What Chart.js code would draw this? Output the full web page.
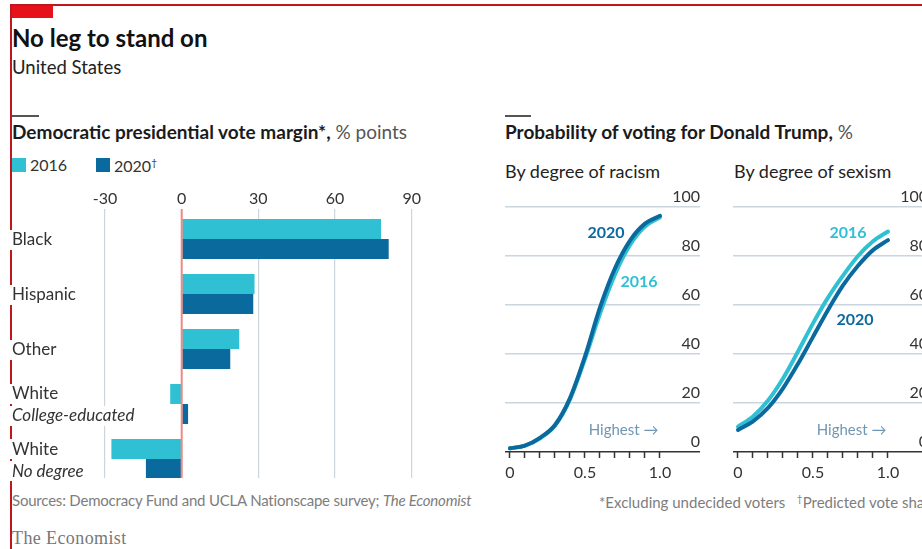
<!DOCTYPE html>
<html>
<head>
<meta charset="utf-8">
<script src="https://cdn.jsdelivr.net/npm/chart.js@4"></script>
<style>
  html, body { margin: 0; padding: 0; background: #fff; }
  body { width: 922px; height: 549px; overflow: hidden; position: relative; font-family: Lato, 'Noto Sans', sans-serif; color: #333; }
  .t { position: absolute; white-space: nowrap; line-height: 1; }
  .rule { position: absolute; background: #555; height: 2px; }
  canvas { position: absolute; }
</style>
</head>
<body>
<!-- frame -->
<div style="position:absolute;left:10px;top:4px;width:920px;height:2px;background:#c0161d"></div>
<div style="position:absolute;left:10px;top:4px;width:2px;height:560px;background:#c0161d"></div>
<div style="position:absolute;left:12px;top:6px;width:41px;height:12px;background:#e5121c"></div>

<div class="t" style="left:12px;top:26px;font-size:24px;font-weight:700;color:#111">No leg to stand on</div>
<div class="t" style="left:12px;top:58px;font-size:18.5px;color:#222">United States</div>

<div class="rule" style="left:12px;top:115px;width:27px"></div>
<div class="t" style="left:12px;top:122px;font-size:19px;color:#1b1b1b"><b>Democratic presidential vote margin*,</b> <span style="color:#555">% points</span></div>
<div id="legend"></div>

<div class="rule" style="left:505px;top:115px;width:26px"></div>
<div class="t" style="left:505px;top:122px;font-size:19px;color:#1b1b1b"><b>Probability of voting for Donald Trump,</b> <span style="color:#555">%</span></div>
<div class="t" style="left:505px;top:162px;font-size:18px;color:#222">By degree of racism</div>
<div class="t" style="left:734px;top:162px;font-size:18px;color:#222">By degree of sexism</div>

<canvas id="bars" width="480" height="310" style="left:0;top:180px"></canvas>
<canvas id="racism" width="215" height="302" style="left:495px;top:180px"></canvas>
<canvas id="sexism" width="215" height="302" style="left:723px;top:180px"></canvas>

<div class="t" style="left:12px;top:493px;font-size:15px;letter-spacing:-0.2px;color:#7d7d7d">Sources: Democracy Fund and UCLA Nationscape survey; <i>The Economist</i></div>
<div class="t" style="left:599px;top:493px;font-size:15px;color:#7d7d7d">*Excluding undecided voters&nbsp;&nbsp;&nbsp;<sup style="font-size:10px">†</sup>Predicted vote share</div>
<div class="t" style="left:12px;top:529px;font-size:18px;letter-spacing:0.4px;color:#777;font-family:'Liberation Serif','DejaVu Serif',serif">The Economist</div>

<script>
// ── data ──
const groups = [['Black'], ['Hispanic'], ['Other'], ['White', 'College-educated'], ['White', 'No degree']];
const seriesNames = ['2016', '2020'];
const margin2016 = [78, 28.5, 22.5, -4.5, -27.5];
const margin2020 = [81, 28, 19, 2.5, -14];
const marginTicks = [-30, 0, 30, 60, 90];

const degree = [0, 0.1, 0.2, 0.3, 0.4, 0.5, 0.6, 0.7, 0.8, 0.9, 1.0];
const degreeLabels = { 0: '0', 0.5: '0.5', 1: '1.0' };
const racism2016 = [1.5, 2.6, 5.6, 10.8, 21.5, 38, 56.5, 72.5, 84.5, 92, 95.8];
const racism2020 = [1.5, 2.6, 5.8, 11, 22, 39, 59, 75, 86.3, 93.2, 96.4];
const sexism2016 = [10.3, 14.5, 21, 30, 41, 52.5, 63, 72, 80, 86, 90];
const sexism2020 = [9, 12.5, 18, 26, 36, 47, 58, 68, 76, 82.4, 86.5];
const probTicks = [0, 20, 40, 60, 80, 100];

const C16 = '#2fc0d3';
const C20 = '#0a6a9e';
const GRID = '#c9d6e0';

Chart.defaults.font.family = 'Lato, "Noto Sans", sans-serif';
Chart.defaults.color = '#333';

// legend (2020 carries the dagger footnote)
document.getElementById('legend').innerHTML = seriesNames.map((n, i) => {
  const left = i === 0 ? 12 : 96;
  const col = i === 0 ? C16 : C20;
  return `<div style="position:absolute;left:${left}px;top:158px;width:14px;height:14px;background:${col}"></div>` +
    `<div class="t" style="left:${left + 18}px;top:157px;font-size:16px;color:#333">${n}${i === 1 ? '<sup style="font-size:10px">†</sup>' : ''}</div>`;
}).join('');

// category labels on the left + red zero line on top of the bars
const barLabels = {
  id: 'barLabels',
  afterDatasetsDraw(chart) {
    const { ctx, chartArea, scales: { x, y } } = chart;
    ctx.save();
    const zx = x.getPixelForValue(0);
    ctx.strokeStyle = '#ee8a84';
    ctx.lineWidth = 2;
    ctx.beginPath();
    ctx.moveTo(zx, chartArea.top);
    ctx.lineTo(zx, chartArea.bottom);
    ctx.stroke();

    ctx.textBaseline = 'middle';
    ctx.textAlign = 'left';
    groups.forEach((lines, i) => {
      const cy = y.getPixelForValue(i);
      lines.forEach((txt, j) => {
        const ly = lines.length === 1 ? cy + 1 : cy - 10 + j * 22;
        ctx.font = (j === 1 ? 'italic ' : '') + '17px Lato, "Noto Sans", sans-serif';
        const w = ctx.measureText(txt).width;
        ctx.fillStyle = '#fff';
        ctx.fillRect(chartArea.left - 2, ly - 10, w + 4, 20);
        ctx.fillStyle = '#333';
        ctx.fillText(txt, chartArea.left, ly);
      });
    });
    ctx.restore();
  }
};

new Chart(document.getElementById('bars'), {
  type: 'bar',
  data: {
    datasets: [
      { label: seriesNames[0], data: margin2016.map((v, i) => ({ x: v, y: i })), backgroundColor: C16 },
      { label: seriesNames[1], data: margin2020.map((v, i) => ({ x: v, y: i })), backgroundColor: C20 },
    ],
  },
  options: {
    indexAxis: 'y',
    responsive: false, animation: false,
    layout: { padding: { left: 12, right: 20, top: 0, bottom: 12 } },
    datasets: { bar: { categoryPercentage: 40 / 55, barPercentage: 1 } },
    plugins: { legend: { display: false }, tooltip: { enabled: false } },
    scales: {
      x: {
        type: 'linear', position: 'top', min: -66.4, max: 108.9,
        afterBuildTicks: s => { s.ticks = marginTicks.map(v => ({ value: v })); },
        afterFit: s => { s.height = 29; },
        grid: { color: GRID, lineWidth: 1.2, drawTicks: false },
        border: { display: false },
        ticks: { padding: 1, font: { size: 16 }, color: '#333' },
      },
      // index axis kept linear so the group spacing can be set exactly
      y: {
        type: 'linear', reverse: true, offset: false, bounds: 'data', min: -0.545, max: 4.345,
        afterBuildTicks: s => { s.ticks = groups.map((g, i) => ({ value: i })); },
        afterFit: s => { s.width = 0; },
        grid: { display: false, drawTicks: false },
        border: { display: false },
        ticks: { display: false },
      },
    },
  },
  plugins: [barLabels],
});

// text notes placed in data coordinates
const notes = {
  id: 'notes',
  afterDatasetsDraw(chart, args, opts) {
    const { ctx, scales: { x, y } } = chart;
    ctx.save();
    ctx.textBaseline = 'middle';
    (opts.items || []).forEach(n => {
      ctx.font = (n.bold ? '700 ' : '') + (n.size || 16) + 'px Lato, "Noto Sans", sans-serif';
      ctx.fillStyle = n.color;
      ctx.textAlign = n.align || 'center';
      ctx.fillText(n.text, x.getPixelForValue(n.x), y.getPixelForValue(n.y));
    });
    ctx.restore();
  }
};

function probChart(id, s16, s20, items) {
  return new Chart(document.getElementById(id), {
    type: 'line',
    data: {
      labels: degree,
      datasets: [
        { label: seriesNames[1], data: degree.map((d, i) => ({ x: d, y: s20[i] })), borderColor: C20 },
        { label: seriesNames[0], data: degree.map((d, i) => ({ x: d, y: s16[i] })), borderColor: C16 },
      ],
    },
    options: {
      responsive: false, animation: false,
      layout: { padding: { left: 10, right: 10, top: 27, bottom: 0 } },
      elements: {
        line: { borderWidth: 4, cubicInterpolationMode: 'monotone', borderCapStyle: 'round' },
        point: { radius: 0 },
      },
      plugins: { legend: { display: false }, tooltip: { enabled: false }, notes: { items } },
      scales: {
        x: {
          type: 'linear', min: -0.0333, max: 1.2667,
          afterBuildTicks: s => { s.ticks = degree.map(v => ({ value: v })); },
          afterFit: s => { s.height = 30; },
          grid: { drawOnChartArea: false, drawTicks: true, tickLength: 6, tickColor: '#333', tickWidth: 1.5 },
          border: { display: false },
          ticks: { padding: 5, font: { size: 16 }, color: '#333', autoSkip: false, maxRotation: 0,
            callback: v => degreeLabels[v] ?? '' },
        },
        y: {
          position: 'right', min: 0, max: 100,
          afterBuildTicks: s => { s.ticks = probTicks.map(v => ({ value: v })); },
          grid: { drawTicks: false, lineWidth: 1.5, color: c => (c.tick && c.tick.value === 0 ? '#333' : GRID) },
          border: { display: false },
          ticks: { mirror: true, padding: 0, labelOffset: -10, font: { size: 16 }, color: '#333' },
        },
      },
    },
    plugins: [notes],
  });
}

const HL = '#6f97b4';
probChart('racism', racism2016, racism2020, [
  { text: '2020', x: 0.64, y: 89.4, color: C20, bold: true },
  { text: '2016', x: 0.86, y: 69.4, color: C16, bold: true },
  { text: 'Highest →', x: 0.99, y: 9, color: HL, align: 'right', size: 15 },
]);
probChart('sexism', sexism2016, sexism2020, [
  { text: '2016', x: 0.733, y: 89.4, color: C16, bold: true },
  { text: '2020', x: 0.78, y: 54, color: C20, bold: true },
  { text: 'Highest →', x: 0.99, y: 9, color: HL, align: 'right', size: 15 },
]);
</script>
</body>
</html>
